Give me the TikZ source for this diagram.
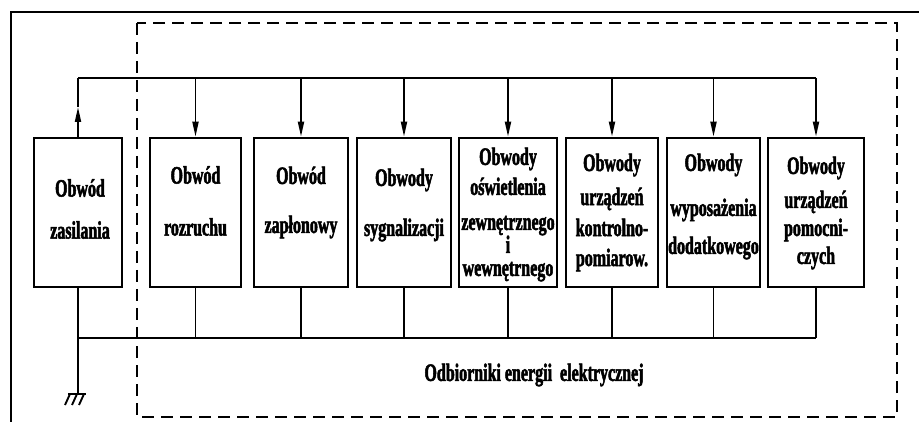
\documentclass[tikz,border=0pt]{standalone}
\usepackage{fontspec}
\newfontfamily\schemefont[FakeStretch=0.64, BoldFeatures={FakeBold=2}]{Liberation Serif}
\usetikzlibrary{arrows.meta}

\tikzset{
  circuit/.style={draw, line width=2.6pt, minimum height=149pt, inner sep=0pt},
  caption/.style={font=\schemefont\bfseries\fontsize{25}{30}\selectfont, align=center, inner sep=0pt},
  bus/.style={line width=2.8pt},
  stub/.style={line width=1.9pt},
  feed/.style={line width=1.9pt, -{Triangle[length=15pt,width=6pt]}},
  frame/.style={line width=2.4pt},
  region/.style={line width=2.2pt, dash pattern=on 12pt off 7pt},
}

\begin{document}
\begin{tikzpicture}[x=1pt, y=-1pt]
  \useasboundingbox (0,0) rectangle (919,422);

  % outer frame and receiver area
  \draw[frame] (11,422) -- (11,12) -- (919,12);
  \draw[region] (137,23) rectangle (897,417);

  % circuit blocks
  \node[circuit, minimum width=88pt] (zas) at (78,212.5) {};
  \node[circuit, minimum width=91pt] (rozr) at (195.5,212.5) {};
  \node[circuit, minimum width=94pt] (zapl) at (301,212.5) {};
  \node[circuit, minimum width=94pt] (sygn) at (404,212.5) {};
  \node[circuit, minimum width=98pt] (osw) at (508,212.5) {};
  \node[circuit, minimum width=92pt] (kontr) at (612,212.5) {};
  \node[circuit, minimum width=93pt] (wypos) at (713.5,212.5) {};
  \node[circuit, minimum width=96pt] (pomoc) at (816,212.5) {};

  % block captions
  \node[caption] (zas-t) at (80,209) {Obwód\\[12pt]zasilania};
  \node[caption] (rozr-t) at (195.5,201) {Obwód\\[22pt]rozruchu};
  \node[caption] (zapl-t) at (301,202.5) {Obwód\\[19pt]zapłonowy};
  \node[caption] (sygn-t) at (404,205) {Obwody\\[20pt]sygnalizacji};
  \node[caption] (osw-t) at (508,214.5) {Obwody\\[0pt]oświetlenia\\[5pt]zewnętrznego\\[-7pt]i\\[-7pt]wewnętrnego};
  \node[caption] (kontr-t) at (612,212.5) {Obwody\\[4pt]urządzeń\\[1pt]kontrolno-\\[0pt]pomiarow.};
  \node[caption] (wypos-t) at (713.5,206.5) {Obwody\\[15pt]wyposażenia\\[8pt]dodatkowego};
  \node[caption] (pomoc-t) at (816,213) {Obwody\\[4pt]urządzeń\\[-2pt]pomocni-\\[-2pt]czych};

  \node[caption] (recv) at (534,375) {Odbiorniki energii\ \ elektrycznej};

  % supply bus
  \coordinate (feedbus) at (0,78);
  \coordinate (zas-arrow) at (78,107);
  \draw[bus] (zas.north |- feedbus) -- (pomoc.north |- feedbus);
  \draw[feed] (zas.north) -- (zas-arrow);
  \draw[stub] (zas-arrow) -- (zas.north |- feedbus);
  \draw[feed] (rozr.north |- feedbus) -- (rozr.north);
  \draw[feed] (zapl.north |- feedbus) -- (zapl.north);
  \draw[feed] (sygn.north |- feedbus) -- (sygn.north);
  \draw[feed] (osw.north |- feedbus) -- (osw.north);
  \draw[feed] (kontr.north |- feedbus) -- (kontr.north);
  \draw[feed] (wypos.north |- feedbus) -- (wypos.north);
  \draw[feed] (pomoc.north |- feedbus) -- (pomoc.north);

  % return bus and ground
  \coordinate (retbus) at (0,338);
  \coordinate (gnd) at (78,394);
  \draw[bus] (zas.south |- retbus) -- (pomoc.south |- retbus);
  \draw[stub] (zas.south) -- (gnd);
  \draw[stub] (rozr.south) -- (rozr.south |- retbus);
  \draw[stub] (zapl.south) -- (zapl.south |- retbus);
  \draw[stub] (sygn.south) -- (sygn.south |- retbus);
  \draw[stub] (osw.south) -- (osw.south |- retbus);
  \draw[stub] (kontr.south) -- (kontr.south |- retbus);
  \draw[stub] (wypos.south) -- (wypos.south |- retbus);
  \draw[stub] (pomoc.south) -- (pomoc.south |- retbus);
  \draw[stub] ([xshift=-10pt]gnd) -- ([xshift=8pt]gnd);
  \draw[stub] ([xshift=-8pt]gnd) -- ++(-5,11);
  \draw[stub] ([xshift=-1pt]gnd) -- ++(-5,11);
  \draw[stub] ([xshift=6pt]gnd) -- ++(-5,11);
\end{tikzpicture}
\end{document}
